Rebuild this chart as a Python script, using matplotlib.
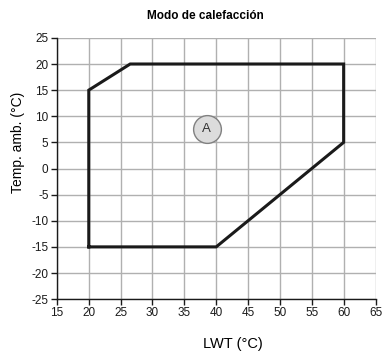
import matplotlib.pyplot as plt

# operating envelope (heating mode)
lwt = [20, 20, 26.5, 60, 60, 40, 20]
amb = [-15, 15, 20, 20, 5, -15, -15]
label_pos = (38.5, 7.5)

xticks = list(range(15, 70, 5))
yticks = list(range(-25, 30, 5))

plt.rcParams['font.family'] = ['Liberation Sans', 'DejaVu Sans']
plt.rcParams['axes.unicode_minus'] = False

fig = plt.figure(figsize=(3.82, 3.54), dpi=100)
ax = fig.add_axes([0.149, 0.155, 0.834, 0.738])

ax.plot(lwt, amb, color='#1a1a1a', lw=2.2, solid_joinstyle='miter', zorder=3)

ax.scatter([label_pos[0]], [label_pos[1]], s=400, facecolor='#dcdcdc',
           edgecolor='#808080', lw=1.0, zorder=4)
ax.text(label_pos[0], label_pos[1], 'A', ha='center', va='center',
        fontsize=9.5, color='#333333', zorder=5)

ax.set_xlim(15, 65)
ax.set_ylim(-25, 25)
ax.set_xticks(xticks)
ax.set_yticks(yticks)
ax.grid(True, color='#b0b0b0', lw=1.0)
ax.set_axisbelow(True)

for s in ['top', 'right']:
    ax.spines[s].set_visible(False)
for s in ['left', 'bottom']:
    ax.spines[s].set_color('#1a1a1a')
    ax.spines[s].set_linewidth(1.0)

ax.tick_params(labelsize=8.5, length=4, width=1, colors='#1a1a1a', pad=2)

fig.text(0.537, 0.955, 'Modo de calefacción', fontsize=8.5, fontweight='bold',
         ha='center', va='center')
ax.set_xlabel('LWT (°C)', fontsize=10.5)
ax.xaxis.set_label_coords(0.553, -0.145)
ax.set_ylabel('Temp. amb. (°C)', fontsize=10)
ax.yaxis.set_label_coords(-0.1, 0.6)

fig.savefig('out.png', dpi=100)
